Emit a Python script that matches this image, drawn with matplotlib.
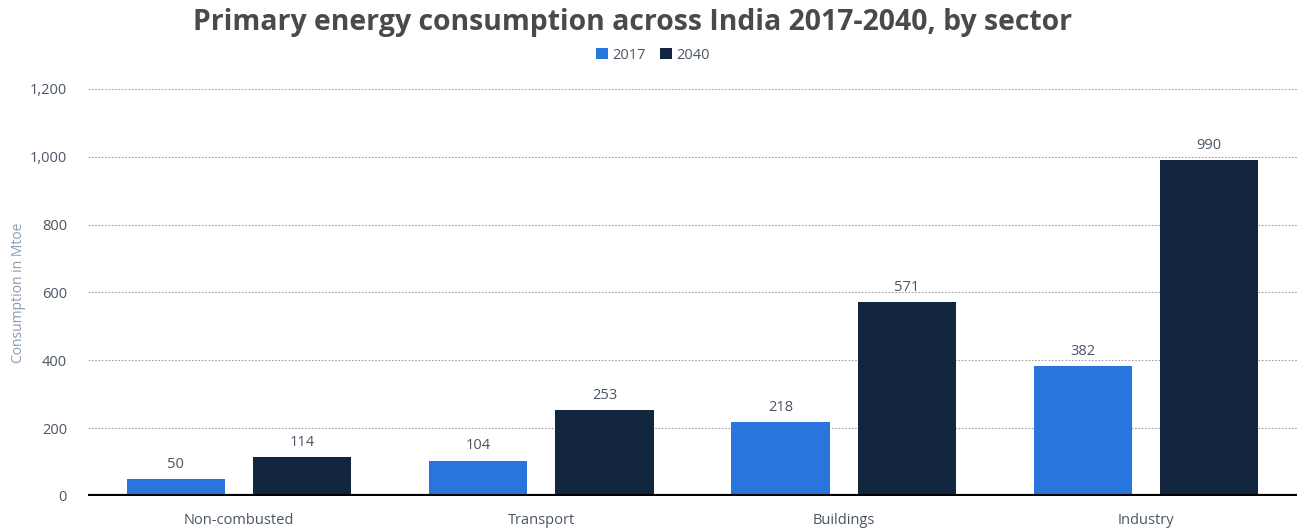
import matplotlib.pyplot as plt
import numpy as np

# Primary energy consumption by sector (Mtoe)
sectors = ["Non-combusted", "Transport", "Buildings", "Industry"]
years = ["2017", "2040"]
values_2017 = [50, 104, 218, 382]
values_2040 = [114, 253, 571, 990]
colors = ["#2876dd", "#12263f"]

plt.rcParams['font.family'] = ['Open Sans', 'DejaVu Sans']

fig = plt.figure(figsize=(13.01, 5.29), dpi=100)
ax = fig.add_axes([0.0676, 0.0624, 0.9294, 0.7696])

x = np.arange(len(sectors))
width = 0.325
offset = 0.209

for vals, year, color, off in zip([values_2017, values_2040], years, colors, [-offset, offset]):
    bars = ax.bar(x + off, vals, width=width, color=color, label=year, zorder=3)
    for b, v in zip(bars, vals):
        ax.text(b.get_x() + b.get_width() / 2, v + 22, f"{v:,}", ha='center', va='bottom',
                fontsize=10.5, color="#4a5564")

ax.set_xlim(-0.5, 3.5)
ax.set_ylim(0, 1200)
ax.set_yticks(range(0, 1201, 200))
ax.set_yticklabels([f"{t:,}" for t in range(0, 1201, 200)])
ax.set_xticks(x)
ax.set_xticklabels(sectors)
ax.tick_params(axis='both', length=0, labelsize=10.5, colors="#4a5564")
ax.tick_params(axis='y', pad=15)
ax.tick_params(axis='x', pad=12)

ax.grid(axis='y', linestyle=(0, (1.5, 1.5)), color="#a0a0a0", linewidth=0.8, zorder=0)
for s in ax.spines.values():
    s.set_visible(False)
ax.axhline(0, color="black", linewidth=3, zorder=4)

ax.set_ylabel("Consumption in Mtoe", fontsize=10, color="#8a9bb0")
ax.yaxis.set_label_coords(-0.051, 0.5)

fig.text(0.486, 0.958, "Primary energy consumption across India 2017-2040, by sector",
         ha='center', va='center', fontsize=20.4, fontweight='bold', color="#4a4a4a")

fig.legend(loc='center', bbox_to_anchor=(0.502, 0.896), ncol=2, frameon=False,
           fontsize=10.5, handlelength=0.8, handleheight=0.8, handletextpad=0.3,
           columnspacing=1.0, labelcolor="#4a5564", borderpad=0)

fig.savefig("out.png", dpi=100)
